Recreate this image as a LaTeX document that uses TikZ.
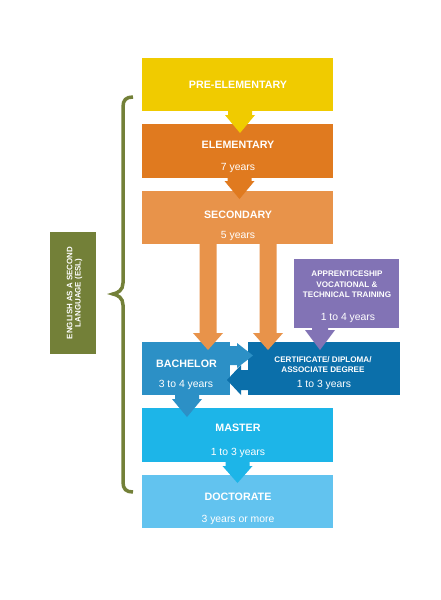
\documentclass[tikz,border=0pt]{standalone}
\usepackage{fontspec}
\setmainfont{Liberation Sans}
\usetikzlibrary{calc}
\definecolor{cyel}{HTML}{F0CB00}
\definecolor{celem}{HTML}{E07A1F}
\definecolor{csec}{HTML}{E8934A}
\definecolor{cpur}{HTML}{8273B5}
\definecolor{cbach}{HTML}{2C90C6}
\definecolor{ccert}{HTML}{0B6FAA}
\definecolor{cmast}{HTML}{1DB5E8}
\definecolor{cdoc}{HTML}{62C3EF}
\definecolor{cgrn}{HTML}{738038}
\tikzset{
  box/.style={inner sep=0pt, outer sep=0pt, anchor=north west, draw=none},
  ttl/.style={text=white, font=\fontsize{10.7}{12}\selectfont\bfseries, anchor=base, inner sep=0pt},
  yrs/.style={text=white, font=\fontsize{10.4}{12}\selectfont, anchor=base, inner sep=0pt},
  sml/.style={text=white, font=\fontsize{8.1}{10}\selectfont\bfseries, anchor=base, inner sep=0pt},
  esl/.style={text=white, font=\fontsize{7.9}{9}\selectfont\bfseries, anchor=base, inner sep=0pt, rotate=90},
}
% #1 colour, #2 source anchor, #3 tip, #4 shaft half width, #5 head half width, #6 head length
\newcommand\dnarrow[6]{\fill[#1] let \p1=(#2), \p2=(#3) in
  (\x2-#4,\y1) -- (\x2+#4,\y1) -- (\x2+#4,\y2+#6) -- (\x2+#5,\y2+#6) -- (\x2,\y2)
  -- (\x2-#5,\y2+#6) -- (\x2-#4,\y2+#6) -- cycle;}
\begin{document}
\begin{tikzpicture}[x=1pt,y=-1pt]
\useasboundingbox (0,0) rectangle (440,600);
\fill[white] (0,0) rectangle (440,600);
% boxes
\node[box, fill=cyel,  minimum width=191pt, minimum height=53pt] (pre)    at (142,58)  {};
\node[box, fill=celem, minimum width=191pt, minimum height=54pt] (elem)   at (142,124) {};
\node[box, fill=csec,  minimum width=191pt, minimum height=53pt] (sec)    at (142,191) {};
\node[box, fill=cpur,  minimum width=105pt, minimum height=69pt] (app)    at (294,259) {};
\node[box, fill=cbach, minimum width=88pt,  minimum height=53pt] (bach)   at (142,342) {};
\node[box, fill=ccert, minimum width=152pt, minimum height=53pt] (cert)   at (248,342) {};
\node[box, fill=cmast, minimum width=191pt, minimum height=54pt] (master) at (142,408) {};
\node[box, fill=cdoc,  minimum width=191pt, minimum height=53pt] (doc)    at (142,475) {};
\node[box, fill=cgrn,  minimum width=46pt,  minimum height=122pt] (eslbox) at (50,232) {};
% tips
\coordinate (t1) at ($(elem.north)+(2.5,9)$);
\coordinate (t2) at ($(sec.north)+(2,8)$);
\coordinate (t3) at ($(bach.north)+(22,8)$);
\coordinate (t4) at ($(cert.north)+(-56,8)$);
\coordinate (t5) at ($(cert.north)+(-4,8)$);
\coordinate (t6) at ($(master.north)+(-50.5,9)$);
\coordinate (t7) at ($(doc.north)+(0,8)$);
% vertical block arrows
\dnarrow{cyel}{pre.south}{t1}{12pt}{15pt}{18pt}
\dnarrow{celem}{elem.south}{t2}{12pt}{15pt}{18pt}
\dnarrow{csec}{sec.south}{t3}{8.5pt}{15pt}{17pt}
\dnarrow{csec}{sec.south}{t4}{8.5pt}{15pt}{17pt}
\dnarrow{cpur}{app.south}{t5}{8pt}{15pt}{20pt}
\dnarrow{cbach}{bach.south}{t6}{12pt}{15pt}{18pt}
\dnarrow{cmast}{master.south}{t7}{12pt}{15pt}{17pt}
% horizontal arrows between bachelor and certificate
\fill[cbach] let \p1=(bach.north east) in
  (\x1,\y1-4pt) -- (\x1+7pt,\y1-4pt) -- (\x1+7pt,\y1-1pt) -- (\x1+23pt,\y1-13.5pt)
  -- (\x1+7pt,\y1-26pt) -- (\x1+7pt,\y1-23pt) -- (\x1,\y1-23pt) -- cycle;
\fill[ccert] let \p1=(cert.south west) in
  (\x1,\y1+25pt) -- (\x1-7pt,\y1+25pt) -- (\x1-7pt,\y1+30pt) -- (\x1-21pt,\y1+15pt)
  -- (\x1-7pt,\y1) -- (\x1-7pt,\y1+5pt) -- (\x1,\y1+5pt) -- cycle;
% brace
\draw[cgrn, line width=3.5pt] (133,97) .. controls (126,97) and (123,100) .. (123,107)
  -- (123,283) .. controls (123,290) and (118,293) .. (113,294)
  .. controls (118,295) and (123,298) .. (123,305)
  -- (123,482) .. controls (123,489) and (126,492) .. (133,492);
% texts
\node[ttl] (tpre)  at (238,88)  {PRE-ELEMENTARY};
\node[ttl] (telem) at (238,148) {ELEMENTARY};
\node[yrs] (yelem) at (238,170) {7 years};
\node[ttl] (tsec)  at (238,218) {SECONDARY};
\node[yrs] (ysec)  at (238,238) {5 years};
\node[sml] (tapp1) at (347,276) {APPRENTICESHIP};
\node[sml] (tapp2) at (347,287) {VOCATIONAL \&};
\node[sml] (tapp3) at (347,297.5) {TECHNICAL TRAINING};
\node[yrs] (yapp)  at (348,320) {1 to 4 years};
\node[ttl] (tbach) at (186.5,367) {BACHELOR};
\node[yrs] (ybach) at (186,387) {3 to 4 years};
\node[sml] (tcert1) at (323,362) {CERTIFICATE/ DIPLOMA/};
\node[sml] (tcert2) at (323,372.5) {ASSOCIATE DEGREE};
\node[yrs] (ycert) at (324,387) {1 to 3 years};
\node[ttl] (tmast) at (238,431) {MASTER};
\node[yrs] (ymast) at (238,455) {1 to 3 years};
\node[ttl] (tdoc)  at (238,500) {DOCTORATE};
\node[yrs] (ydoc)  at (238,522) {3 years or more};
\node[esl] (tesl1) at (72.3,293) {ENGLISH AS A SECOND};
\node[esl] (tesl2) at (80.7,293) {LANGUAGE (ESL)};
\end{tikzpicture}
\end{document}
